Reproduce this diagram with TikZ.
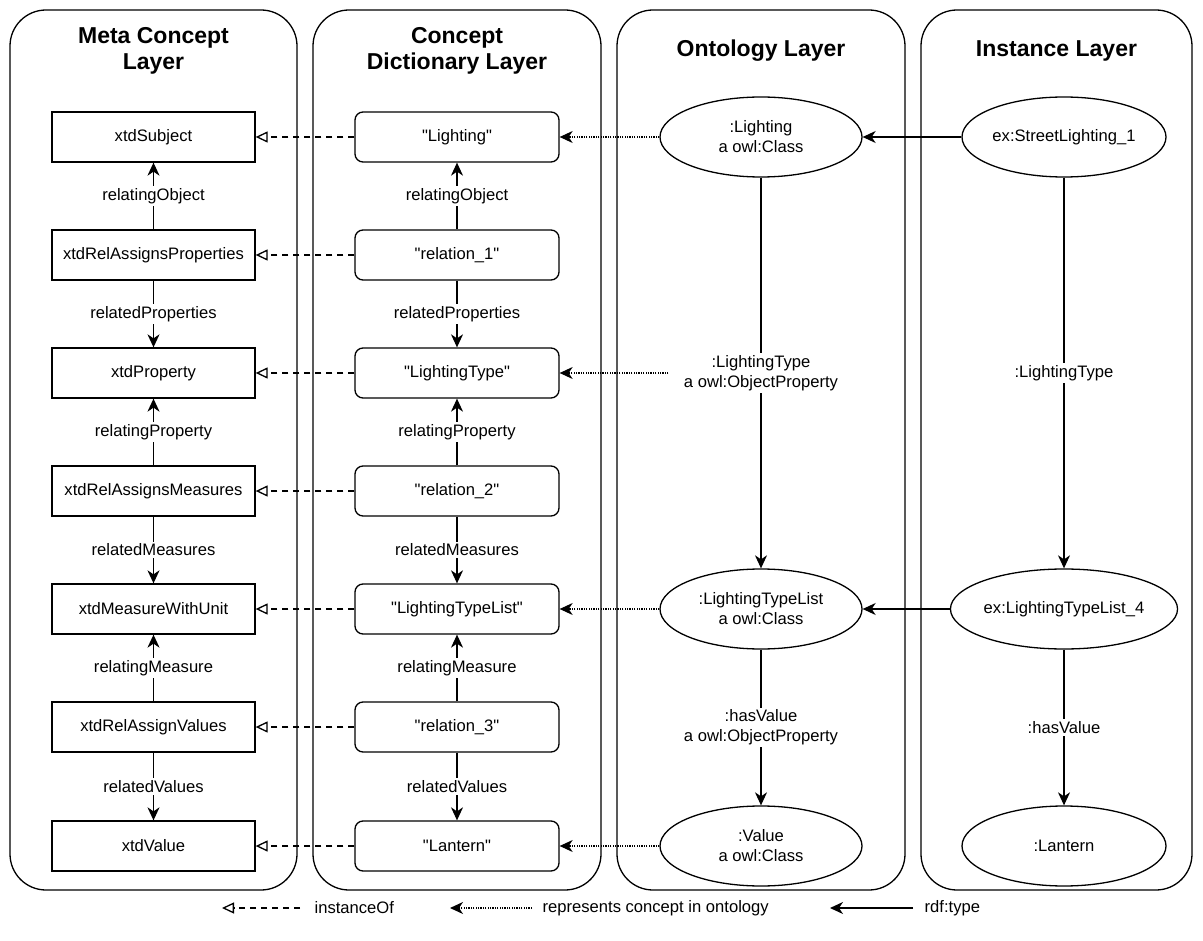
\documentclass[tikz,border=0pt]{standalone}
\usepackage{fontspec}
\setmainfont{Liberation Sans}
\newfontfamily\lf{Liberation Sans}[Ligatures=Common]
\usetikzlibrary{arrows.meta,shapes.geometric}
\begin{document}
\begin{tikzpicture}[x=1pt,y=-1pt, line width=1.3pt,
  every node/.style={font=\lf\fontsize{16.6}{20}\selectfont},
  panel/.style={draw, rounded corners=36pt, minimum height=880pt, inner sep=0pt},
  meta/.style={draw, minimum width=203pt, minimum height=50pt, inner sep=0pt},
  dict/.style={draw, rounded corners=8pt, minimum width=204pt, minimum height=50pt, inner sep=0pt},
  ont/.style={draw, ellipse, minimum width=202pt, minimum height=80pt, inner sep=0pt, align=center},
  elbl/.style={fill=white, inner sep=2pt, align=center},
  title/.style={font=\lf\fontsize{23}{26.5}\selectfont\bfseries, align=center},
  rel/.style={-{Stealth[length=13pt,width=12pt,inset=4pt]}},
  inst/.style={dash pattern=on 6pt off 5pt, -{Triangle[open,length=12pt,width=11pt,fill=white]}},
  repr/.style={line width=1.2pt, dash pattern=on 1.2pt off 1.2pt, -{Stealth[length=13pt,width=12pt,inset=4pt]}},
  lgtext/.style={anchor=west, inner sep=0pt}
  ]
\useasboundingbox (0,0) rectangle (1203,941);

% panels
\node[panel, minimum width=287pt] (p1) at (153.5,450) {};
\node[panel, minimum width=288pt] (p2) at (457,450) {};
\node[panel, minimum width=288pt] (p3) at (761,450) {};
\node[panel, minimum width=271pt] (p4) at (1056.5,450) {};

% titles
\node[title] (t1) at (153.5,51) {Meta Concept\\Layer};
\node[title] (t2) at (457,51) {Concept\\Dictionary Layer};
\node[title] (t3) at (761,51) {Ontology Layer};
\node[title] (t4) at (1056.5,51) {Instance Layer};

% meta concept layer
\node[meta] (m1) at (153.5,137) {xtdSubject};
\node[meta] (m2) at (153.5,255) {xtdRelAssignsProperties};
\node[meta] (m3) at (153.5,373) {xtdProperty};
\node[meta] (m4) at (153.5,491) {xtdRelAssignsMeasures};
\node[meta] (m5) at (153.5,609) {xtdMeasureWithUnit};
\node[meta] (m6) at (153.5,727) {xtdRelAssignValues};
\node[meta] (m7) at (153.5,846) {xtdValue};

\draw[rel] (m2) -- node[elbl]{relatingObject} (m1);
\draw[rel] (m2) -- node[elbl]{relatedProperties} (m3);
\draw[rel] (m4) -- node[elbl]{relatingProperty} (m3);
\draw[rel] (m4) -- node[elbl]{relatedMeasures} (m5);
\draw[rel] (m6) -- node[elbl]{relatingMeasure} (m5);
\draw[rel] (m6) -- node[elbl]{relatedValues} (m7);

% concept dictionary layer
\node[dict] (d1) at (457,137) {"Lighting"};
\node[dict] (d2) at (457,255) {"relation\_1"};
\node[dict] (d3) at (457,373) {"LightingType"};
\node[dict] (d4) at (457,491) {"relation\_2"};
\node[dict] (d5) at (457,609) {"LightingTypeList"};
\node[dict] (d6) at (457,727) {"relation\_3"};
\node[dict] (d7) at (457,846) {"Lantern"};

\draw[rel] (d2) -- node[elbl]{relatingObject} (d1);
\draw[rel] (d2) -- node[elbl]{relatedProperties} (d3);
\draw[rel] (d4) -- node[elbl]{relatingProperty} (d3);
\draw[rel] (d4) -- node[elbl]{relatedMeasures} (d5);
\draw[rel] (d6) -- node[elbl]{relatingMeasure} (d5);
\draw[rel] (d6) -- node[elbl]{relatedValues} (d7);

\foreach \i in {1,...,7} {\draw[inst] (d\i) -- (m\i);}

% ontology layer
\node[ont] (o1) at (761,137) {:Lighting\\a owl:Class};
\node[ont] (o5) at (761,609) {:LightingTypeList\\a owl:Class};
\node[ont] (o7) at (761,846) {:Value\\a owl:Class};

\draw[rel] (o1) -- node[elbl, inner xsep=15pt] (lt) {:LightingType\\a owl:ObjectProperty} (o5);
\draw[rel] (o5) -- node[elbl] (hv) {:hasValue\\a owl:ObjectProperty} (o7);

\draw[repr] (o1) -- (d1);
\draw[repr] (lt) -- (d3);
\draw[repr] (o5) -- (d5);
\draw[repr] (o7) -- (d7);

% instance layer
\node[ont, minimum width=204pt] (i1) at (1064,137) {ex:StreetLighting\_1};
\node[ont, minimum width=204pt] (i5) at (1064,609) {ex:LightingTypeList\_4};
\node[ont, minimum width=204pt] (i7) at (1064,846) {:Lantern};

\draw[rel] (i1) -- node[elbl]{:LightingType} (i5);
\draw[rel] (i5) -- node[elbl]{:hasValue} (i7);
\draw[rel] (i1) -- (o1);
\draw[rel] (i5) -- (o5);

% legend
\coordinate (la) at (300,908);
\coordinate (lb) at (222,908);
\draw[inst] (la) -- (lb);
\node[lgtext] (lt1) at (314,908) {instanceOf};
\coordinate (lc) at (532,908);
\coordinate (ld) at (450,908);
\draw[repr] (lc) -- (ld);
\node[lgtext] (lt2) at (542,908) {represents concept in ontology};
\coordinate (le) at (913,908);
\coordinate (lf) at (830,908);
\draw[rel] (le) -- (lf);
\node[lgtext] (lt3) at (924,908) {rdf:type};
\end{tikzpicture}
\end{document}
